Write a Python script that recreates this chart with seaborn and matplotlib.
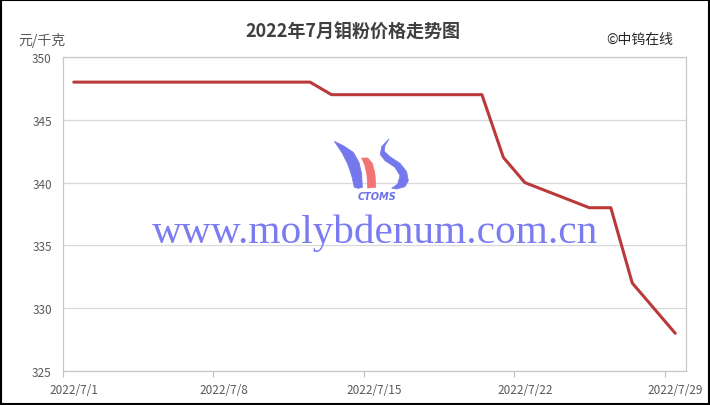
import matplotlib
matplotlib.use("Agg")
import matplotlib.pyplot as plt
import matplotlib.dates as mdates
from matplotlib.patches import Rectangle, Polygon
from matplotlib.ticker import FixedLocator
import seaborn as sns
import pandas as pd

# ---- data ----
dates = ["2022-07-01", "2022-07-04", "2022-07-05", "2022-07-06", "2022-07-07",
         "2022-07-08", "2022-07-11", "2022-07-12", "2022-07-13", "2022-07-14",
         "2022-07-15", "2022-07-18", "2022-07-19", "2022-07-20", "2022-07-21",
         "2022-07-22", "2022-07-25", "2022-07-26", "2022-07-27", "2022-07-28",
         "2022-07-29"]
prices = [348, 348, 348, 348, 348,
          348, 348, 348, 347, 347,
          347, 347, 347, 347, 342,
          340, 338, 338, 332, 330,
          328]
x_ticks = ["2022-07-01", "2022-07-08", "2022-07-15", "2022-07-22", "2022-07-29"]
x_tick_labels = ["2022/7/1", "2022/7/8", "2022/7/15", "2022/7/22", "2022/7/29"]
y_ticks = [325, 330, 335, 340, 345, 350]
title = "2022年7月钼粉价格走势图"
unit_label = "元/千克"
source_label = "©中钨在线"
watermark = "www.molybdenum.com.cn"
logo_text = "CTOMS"

sns.set_theme(style="white")
plt.rcParams["font.family"] = ["Noto Sans CJK SC", "DejaVu Sans"]

W, H = 710, 406
fig = plt.figure(figsize=(W / 100, H / 100), dpi=100)
fig.patch.set_facecolor("white")

def fx(px):
    return px / W

def fy(py):
    return 1 - py / H

ax = fig.add_axes([fx(63), fy(372), fx(686) - fx(63), fy(58) - fy(372)])

df = pd.DataFrame({"date": pd.to_datetime(dates), "price": prices})
sns.lineplot(data=df, x="date", y="price", ax=ax, color="#BA3A3C",
             linewidth=2.2, zorder=5)

ax.set_xlim(pd.Timestamp("2022-06-30 12:00"), pd.Timestamp("2022-07-29 12:00"))
ax.set_ylim(325, 350)
ax.set_yticks(y_ticks)
ax.set_xticks(pd.to_datetime(x_ticks))
ax.set_xticklabels(x_tick_labels)
minor = pd.to_datetime(x_ticks) - pd.Timedelta(hours=12)
ax.xaxis.set_minor_locator(FixedLocator(mdates.date2num(minor)))
ax.tick_params(axis="x", which="major", length=0, pad=9, labelsize=8.5,
               labelcolor="#595959")
ax.tick_params(axis="x", which="minor", length=4, width=0.8, color="#BFBFBF",
               direction="out", bottom=True)
ax.tick_params(axis="y", length=0, pad=8, labelsize=8.5, labelcolor="#595959")
ax.set_xlabel("")
ax.set_ylabel("")
ax.grid(axis="y", color="#D9D9D9", linewidth=0.9)
ax.grid(axis="x", visible=False)
for s in ax.spines.values():
    s.set_color("#C8C8C8")
    s.set_linewidth(0.9)
ax.set_facecolor("white")

# texts
fig.text(fx(353), fy(32), title, ha="center", va="center", fontsize=13,
         fontweight="bold", color="#404040")
fig.text(fx(18), fy(40), unit_label, ha="left", va="center", fontsize=10,
         color="#595959")
fig.text(fx(640), fy(40), source_label, ha="center", va="center", fontsize=10,
         color="#262626")

# watermark
fig.text(fx(375), fy(233), watermark, ha="center", va="center",
         fontsize=29.7, family=["Liberation Serif", "DejaVu Serif"],
         color="#7C7CF2", zorder=1)

# logo (approximate shapes, in zoomed-logo coordinates)
def logo_poly(pts, color):
    verts = [(fx(325 + x / 3), fy(135 + y / 3)) for x, y in pts]
    fig.add_artist(Polygon(verts, closed=True, facecolor=color, edgecolor=color,
                           linewidth=0.5, transform=fig.transFigure, zorder=2,
                           joinstyle="round"))

logo_poly([(28, 22), (55, 35), (85, 55), (102, 85), (110, 120), (112, 160),
           (100, 163), (88, 160), (80, 125), (68, 90), (52, 58)], "#7478EC")
logo_poly([(110, 72), (128, 72), (142, 88), (150, 120), (152, 160), (128, 162),
           (126, 125), (120, 95)], "#F27474")
logo_poly([(192, 15), (180, 35), (178, 52), (195, 68), (225, 88), (245, 113),
           (250, 140), (240, 158), (215, 165), (200, 163), (218, 150),
           (225, 125), (210, 100), (180, 80), (166, 62), (170, 38)], "#7478EC")
fig.text(fx(377), fy(197), logo_text, ha="center", va="center", fontsize=7,
         fontweight="bold", style="italic", color="#6B70E6",
         family=["DejaVu Sans"])

# outer frame
fig.add_artist(Rectangle((0.001, 0.002), 0.997, 0.996, transform=fig.transFigure,
                         facecolor="none", edgecolor="black", linewidth=1.5))

fig.savefig("out.png", dpi=100)
